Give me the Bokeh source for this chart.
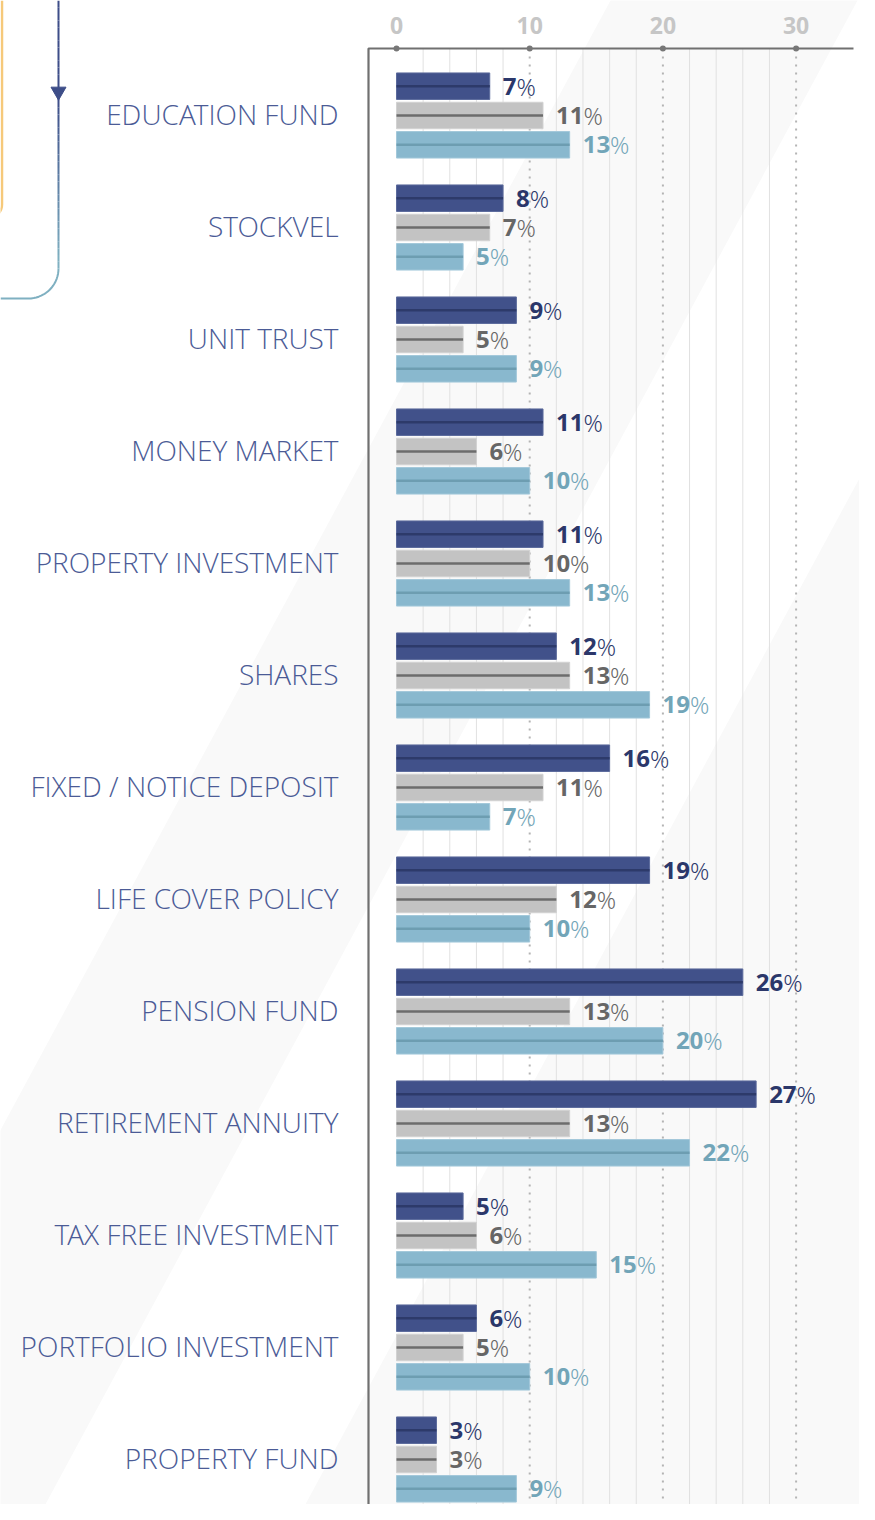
import math
from bokeh.plotting import figure
from bokeh.models import Range1d, ColumnDataSource
from bokeh.core.properties import value
from bokeh.embed import file_html
from bokeh.resources import INLINE

# ---------------- data ----------------
categories = ["EDUCATION FUND", "STOCKVEL", "UNIT TRUST", "MONEY MARKET",
              "PROPERTY INVESTMENT", "SHARES", "FIXED / NOTICE DEPOSIT",
              "LIFE COVER POLICY", "PENSION FUND", "RETIREMENT ANNUITY",
              "TAX FREE INVESTMENT", "PORTFOLIO INVESTMENT", "PROPERTY FUND"]
series_dark = [7, 8, 9, 11, 11, 12, 16, 19, 26, 27, 5, 6, 3]
series_grey = [11, 7, 5, 6, 10, 13, 11, 12, 13, 13, 6, 5, 3]
series_blue = [13, 5, 9, 10, 13, 19, 7, 10, 20, 22, 15, 10, 9]
tick_values = [0, 10, 20, 30]
tick_labels = ["0", "10", "20", "30"]
minor_grid = [2, 4, 6, 8, 12, 14, 16, 18, 22, 24, 26, 28]

# ---------------- layout ----------------
W, H = 859, 1504
PXU, X0 = 13.32, 396.0     # px per x unit, px of x = 0
PYU, Y0 = 112.0, 115.0     # px per group, px of first group centre

def rx(px):   # pixel -> data x
    return (px - X0) / PXU

def ry(py):   # pixel -> data y
    return (py - Y0) / PYU

Y_BOTTOM = (H - Y0) / PYU
Y_TOP = -Y0 / PYU

p = figure(width=W, height=H,
           x_range=Range1d(-X0 / PXU, (W - X0) / PXU),
           y_range=Range1d(Y_BOTTOM, Y_TOP),
           output_backend="svg", toolbar_location=None,
           x_axis_location=None, y_axis_location=None,
           min_border=0, outline_line_color=None,
           background_fill_color="#ffffff", border_fill_color="#ffffff")
p.grid.visible = False

# ---- faint diagonal background bands ----
S = 0.54
def band(x_top_a, x_top_b):
    ys = [-50, 1600]
    xs_a = [x_top_a - S * y for y in ys]
    xs_b = [x_top_b - S * y for y in ys]
    return ([rx(xs_a[0]), rx(xs_b[0]), rx(xs_b[1]), rx(xs_a[1])],
            [ry(ys[0]), ry(ys[0]), ry(ys[1]), ry(ys[1])])
bx1, by1 = band(610, 857)
bx2, by2 = band(1117, 4000)
p.patches([bx1, bx2], [by1, by2], fill_color="#f9f9f9", line_color=None)

# ---- decoration line top-left (gradient line with arrow) ----
def mix(c1, c2, t):
    a = [int(c1[i:i + 2], 16) for i in (1, 3, 5)]
    b = [int(c2[i:i + 2], 16) for i in (1, 3, 5)]
    return "#%02x%02x%02x" % tuple(round(a[k] + (b[k] - a[k]) * t) for k in range(3))

NAVY_LINE, BLUE_LINE = "#3d4d88", "#7fb0c1"
seg_y = [i * 268 / 40 for i in range(41)]
x0s, y0s, x1s, y1s, cs = [], [], [], [], []
for a, b in zip(seg_y[:-1], seg_y[1:]):
    t = min(max(((a + b) / 2 - 100) / 160, 0), 1)
    x0s.append(rx(58)); x1s.append(rx(58)); y0s.append(ry(a)); y1s.append(ry(b))
    cs.append(mix(NAVY_LINE, BLUE_LINE, t))
p.segment(x0=x0s, y0=y0s, x1=x1s, y1=y1s, line_color=cs, line_width=2)
arc_x = [rx(28 + 30 * math.cos(math.radians(d))) for d in range(0, 91, 5)] + [rx(0)]
arc_y = [ry(268 + 30 * math.sin(math.radians(d))) for d in range(0, 91, 5)] + [ry(298)]
p.line(arc_x, arc_y, line_color=BLUE_LINE, line_width=2)
p.scatter(x=[rx(58)], y=[ry(91)], marker="inverted_triangle", size=15,
          fill_color=NAVY_LINE, line_color=NAVY_LINE)
# yellow frame edge at far left, with its rounded corner
yel_x = [rx(1.5)] + [rx(-12 + 13.5 * math.cos(math.radians(d))) for d in range(0, 91, 10)]
yel_y = [ry(0)] + [ry(204 + 13.5 * math.sin(math.radians(d))) for d in range(0, 91, 10)]
p.line(yel_x, yel_y, line_color="#f6c97a", line_width=2.5)

# ---- grid lines ----
AX_Y = ry(48)
p.segment(x0=minor_grid, y0=[AX_Y] * len(minor_grid), x1=minor_grid,
          y1=[Y_BOTTOM] * len(minor_grid), line_color="#e1e1e1", line_width=1)
major_grid = tick_values[1:]
p.segment(x0=major_grid, y0=[AX_Y] * len(major_grid), x1=major_grid,
          y1=[Y_BOTTOM] * len(major_grid), line_color="#b4b4b4", line_width=2,
          line_dash="2 6")

# ---- axis frame ----
p.line([rx(368), rx(368), rx(853)], [Y_BOTTOM, AX_Y, AX_Y],
       line_color="#707070", line_width=2.2)
p.scatter(x=tick_values, y=[AX_Y] * len(tick_values), size=6,
          fill_color="#777777", line_color=None)
p.text(x=tick_values, y=[ry(25)] * len(tick_values), text=tick_labels,
       text_align="center", text_baseline="middle",
       text_font=value("Open Sans"), text_font_style="bold",
       text_font_size="23px", text_color="#c6c6c6")

# ---- bars ----
OFF = 29.3 / PYU
BH = 26.5 / PYU
series = [
    (series_dark, -OFF, "#41518a", "#2d3a6a", "#5b6a9c", "#2b376a"),
    (series_grey, 0.0, "#c3c3c3", "#6c6c6c", "#d2d2d2", "#666666"),
    (series_blue, OFF, "#89b8ce", "#6d9db1", "#a3c8da", "#72a5b8"),
]
for vals, off, fill, stripe, edge, tcol in series:
    ys = [i + off for i in range(len(vals))]
    num_txt = [str(v) for v in vals]
    src = ColumnDataSource(dict(
        y=ys, right=vals, left=[0] * len(vals), num=num_txt,
        pct=["%"] * len(vals),
        pct_off=[13 + 13.7 * len(t) for t in num_txt]))
    p.hbar(y="y", left="left", right="right", height=BH, source=src,
           fill_color=fill, line_color=edge, line_width=1)
    p.segment(x0="left", y0="y", x1="right", y1="y", source=src,
              line_color=stripe, line_width=2.5)
    p.text(x="right", y="y", text="num", source=src, x_offset=13,
           text_align="left", text_baseline="middle",
           text_font=value("Open Sans"), text_font_style="bold",
           text_font_size="24px", text_color=tcol)
    p.text(x="right", y="y", text="pct", source=src, x_offset="pct_off",
           text_align="left", text_baseline="middle",
           text_font=value("'Open Sans Light', 'Open Sans'"),
           text_font_size="24px", text_color=tcol)

# ---- category labels ----
p.text(x=[rx(338)] * len(categories), y=list(range(len(categories))),
       text=categories, text_align="right", text_baseline="middle",
       y_offset=-2,
       text_font=value("'Open Sans Light', 'Open Sans'"),
       text_font_size="28px", text_color="#4b5b96")

open("out.html", "w").write(file_html(p, INLINE))
